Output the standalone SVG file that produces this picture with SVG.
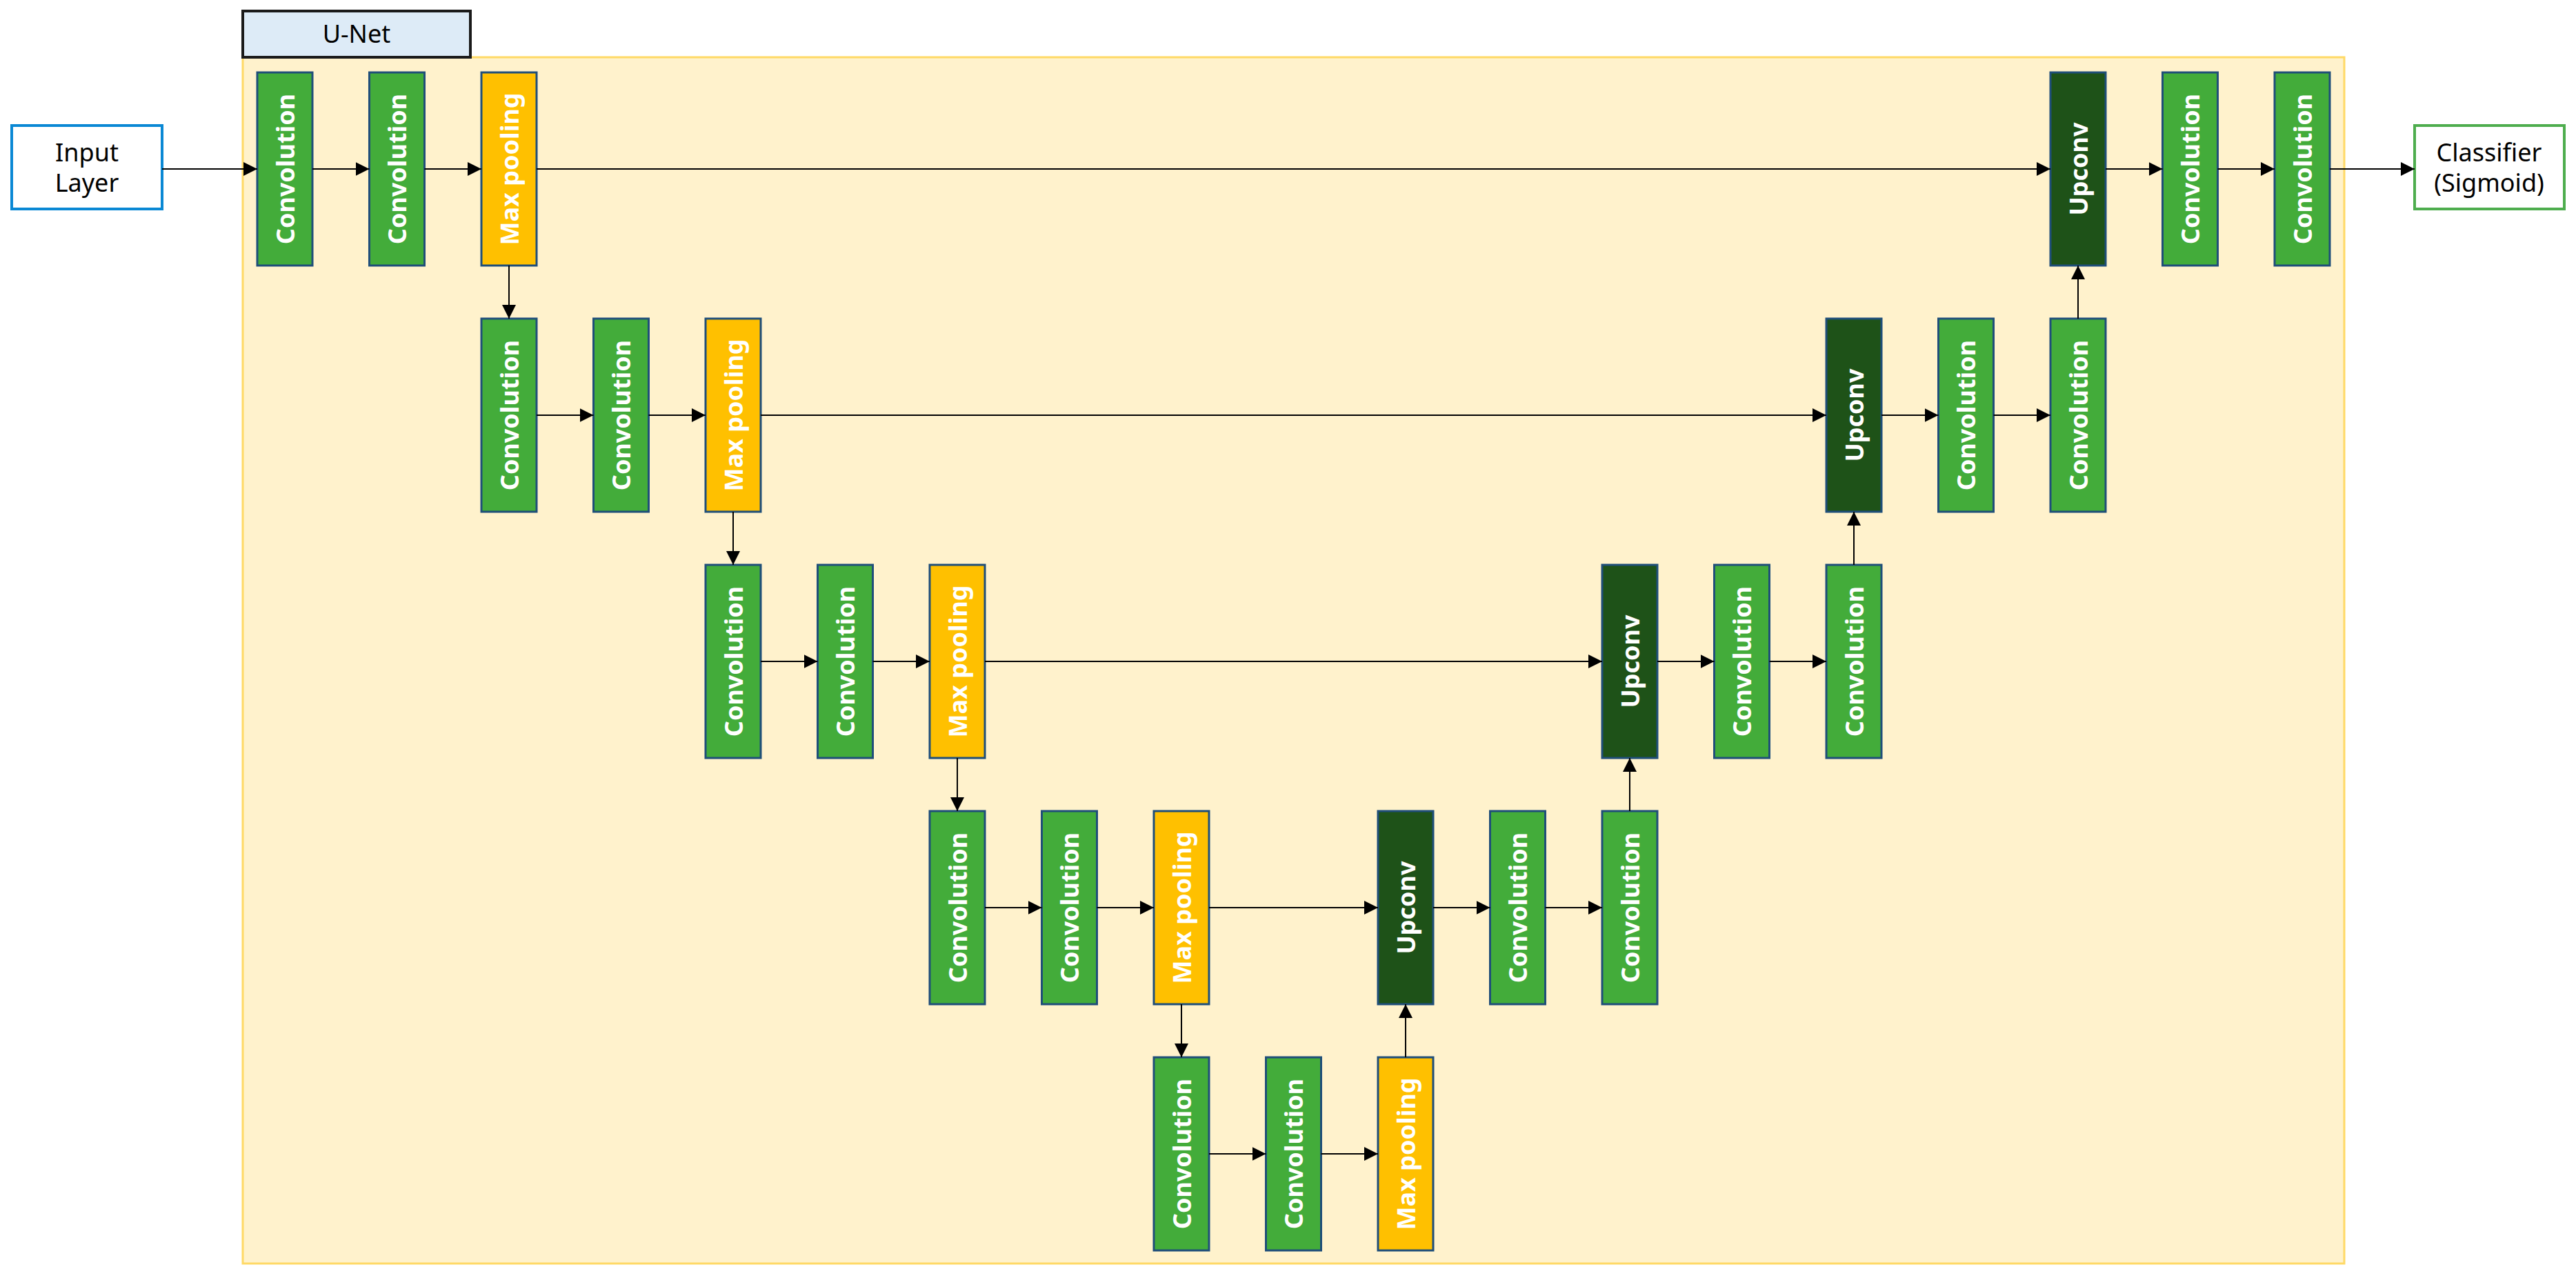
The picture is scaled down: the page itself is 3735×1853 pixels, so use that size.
<svg xmlns="http://www.w3.org/2000/svg" width="3735" height="1853" viewBox="0 0 3735 1853">
<defs>
<marker id="ah" viewBox="0 0 10 10" refX="10" refY="5" markerWidth="8" markerHeight="8" markerUnits="userSpaceOnUse" orient="auto"><path d="M0,0 L10,5 L0,10 z" fill="#000"/></marker>
<marker id="a" viewBox="0 0 10 10" refX="10" refY="5" markerWidth="20" markerHeight="20" markerUnits="userSpaceOnUse" orient="auto"><path d="M0,0 L10,5 L0,10 z" fill="#000"/></marker>
<style>
.conv{fill:#43AC3A;stroke:#1F4E79;stroke-width:3}
.pool{fill:#FFC000;stroke:#1F4E79;stroke-width:3}
.up{fill:#1E5218;stroke:#1F4E79;stroke-width:3}
.bt{fill:#fff;font-family:"Noto Sans","Open Sans",sans-serif;font-weight:bold;font-size:36px;text-anchor:middle;dominant-baseline:central}
.lt{fill:#000;font-family:"Noto Sans","Open Sans",sans-serif;font-size:36px;text-anchor:middle}
.c line{stroke:#000;stroke-width:2;marker-end:url(#a)}
</style>
</defs>
<rect x="352" y="83" width="3047" height="1749" fill="#FFF2CC" stroke="#FFD966" stroke-width="3"/>
<g id="unet-label"><rect x="352" y="16" width="330" height="67" fill="#DDEBF7" stroke="#1a1a1a" stroke-width="4"/><text class="lt" x="517" y="62">U-Net</text></g>
<g id="input"><rect x="17" y="182" width="218" height="121" fill="#fff" stroke="#0A88D4" stroke-width="4"/><text class="lt" x="126" y="234">Input</text><text class="lt" x="126" y="278">Layer</text></g>
<g id="classifier"><rect x="3501" y="182" width="217" height="121" fill="#fff" stroke="#4EAD4E" stroke-width="4"/><text class="lt" x="3609" y="234">Classifier</text><text class="lt" x="3609" y="278">(Sigmoid)</text></g>
<!-- nodes: col x = 373+162.5*i, row y = 105+357*r -->
<g id="r1c0"><rect class="conv" x="373" y="105" width="80" height="280"/><text class="bt" transform="translate(413,245) rotate(-90)">Convolution</text></g>
<g id="r1c1"><rect class="conv" x="535.5" y="105" width="80" height="280"/><text class="bt" transform="translate(575.5,245) rotate(-90)">Convolution</text></g>
<g id="r1c2"><rect class="pool" x="698" y="105" width="80" height="280"/><text class="bt" transform="translate(738,245) rotate(-90)">Max pooling</text></g>
<g id="r1c16"><rect class="up" x="2973" y="105" width="80" height="280"/><text class="bt" transform="translate(3013,245) rotate(-90)">Upconv</text></g>
<g id="r1c17"><rect class="conv" x="3135.5" y="105" width="80" height="280"/><text class="bt" transform="translate(3175.5,245) rotate(-90)">Convolution</text></g>
<g id="r1c18"><rect class="conv" x="3298" y="105" width="80" height="280"/><text class="bt" transform="translate(3338,245) rotate(-90)">Convolution</text></g>

<g id="r2c2"><rect class="conv" x="698" y="462" width="80" height="280"/><text class="bt" transform="translate(738,602) rotate(-90)">Convolution</text></g>
<g id="r2c3"><rect class="conv" x="860.5" y="462" width="80" height="280"/><text class="bt" transform="translate(900.5,602) rotate(-90)">Convolution</text></g>
<g id="r2c4"><rect class="pool" x="1023" y="462" width="80" height="280"/><text class="bt" transform="translate(1063,602) rotate(-90)">Max pooling</text></g>
<g id="r2c14"><rect class="up" x="2648" y="462" width="80" height="280"/><text class="bt" transform="translate(2688,602) rotate(-90)">Upconv</text></g>
<g id="r2c15"><rect class="conv" x="2810.5" y="462" width="80" height="280"/><text class="bt" transform="translate(2850.5,602) rotate(-90)">Convolution</text></g>
<g id="r2c16"><rect class="conv" x="2973" y="462" width="80" height="280"/><text class="bt" transform="translate(3013,602) rotate(-90)">Convolution</text></g>

<g id="r3c4"><rect class="conv" x="1023" y="819" width="80" height="280"/><text class="bt" transform="translate(1063,959) rotate(-90)">Convolution</text></g>
<g id="r3c5"><rect class="conv" x="1185.5" y="819" width="80" height="280"/><text class="bt" transform="translate(1225.5,959) rotate(-90)">Convolution</text></g>
<g id="r3c6"><rect class="pool" x="1348" y="819" width="80" height="280"/><text class="bt" transform="translate(1388,959) rotate(-90)">Max pooling</text></g>
<g id="r3c12"><rect class="up" x="2323" y="819" width="80" height="280"/><text class="bt" transform="translate(2363,959) rotate(-90)">Upconv</text></g>
<g id="r3c13"><rect class="conv" x="2485.5" y="819" width="80" height="280"/><text class="bt" transform="translate(2525.5,959) rotate(-90)">Convolution</text></g>
<g id="r3c14"><rect class="conv" x="2648" y="819" width="80" height="280"/><text class="bt" transform="translate(2688,959) rotate(-90)">Convolution</text></g>

<g id="r4c6"><rect class="conv" x="1348" y="1176" width="80" height="280"/><text class="bt" transform="translate(1388,1316) rotate(-90)">Convolution</text></g>
<g id="r4c7"><rect class="conv" x="1510.5" y="1176" width="80" height="280"/><text class="bt" transform="translate(1550.5,1316) rotate(-90)">Convolution</text></g>
<g id="r4c8"><rect class="pool" x="1673" y="1176" width="80" height="280"/><text class="bt" transform="translate(1713,1316) rotate(-90)">Max pooling</text></g>
<g id="r4c10"><rect class="up" x="1998" y="1176" width="80" height="280"/><text class="bt" transform="translate(2038,1316) rotate(-90)">Upconv</text></g>
<g id="r4c11"><rect class="conv" x="2160.5" y="1176" width="80" height="280"/><text class="bt" transform="translate(2200.5,1316) rotate(-90)">Convolution</text></g>
<g id="r4c12"><rect class="conv" x="2323" y="1176" width="80" height="280"/><text class="bt" transform="translate(2363,1316) rotate(-90)">Convolution</text></g>

<g id="r5c8"><rect class="conv" x="1673" y="1533" width="80" height="280"/><text class="bt" transform="translate(1713,1673) rotate(-90)">Convolution</text></g>
<g id="r5c9"><rect class="conv" x="1835.5" y="1533" width="80" height="280"/><text class="bt" transform="translate(1875.5,1673) rotate(-90)">Convolution</text></g>
<g id="r5c10"><rect class="pool" x="1998" y="1533" width="80" height="280"/><text class="bt" transform="translate(2038,1673) rotate(-90)">Max pooling</text></g>

<g id="connectors" class="c">
<line x1="235" y1="245" x2="373" y2="245"/>
<line x1="453" y1="245" x2="535.5" y2="245"/>
<line x1="615.5" y1="245" x2="698" y2="245"/>
<line x1="778" y1="245" x2="2973" y2="245"/>
<line x1="3053" y1="245" x2="3135.5" y2="245"/>
<line x1="3215.5" y1="245" x2="3298" y2="245"/>
<line x1="3378" y1="245" x2="3501" y2="245"/>
<line x1="738" y1="385" x2="738" y2="462"/>
<line x1="3013" y1="462" x2="3013" y2="385"/>

<line x1="778" y1="602" x2="860.5" y2="602"/>
<line x1="940.5" y1="602" x2="1023" y2="602"/>
<line x1="1103" y1="602" x2="2648" y2="602"/>
<line x1="2728" y1="602" x2="2810.5" y2="602"/>
<line x1="2890.5" y1="602" x2="2973" y2="602"/>
<line x1="1063" y1="742" x2="1063" y2="819"/>
<line x1="2688" y1="819" x2="2688" y2="742"/>

<line x1="1103" y1="959" x2="1185.5" y2="959"/>
<line x1="1265.5" y1="959" x2="1348" y2="959"/>
<line x1="1428" y1="959" x2="2323" y2="959"/>
<line x1="2403" y1="959" x2="2485.5" y2="959"/>
<line x1="2565.5" y1="959" x2="2648" y2="959"/>
<line x1="1388" y1="1099" x2="1388" y2="1176"/>
<line x1="2363" y1="1176" x2="2363" y2="1099"/>

<line x1="1428" y1="1316" x2="1510.5" y2="1316"/>
<line x1="1590.5" y1="1316" x2="1673" y2="1316"/>
<line x1="1753" y1="1316" x2="1998" y2="1316"/>
<line x1="2078" y1="1316" x2="2160.5" y2="1316"/>
<line x1="2240.5" y1="1316" x2="2323" y2="1316"/>
<line x1="1713" y1="1456" x2="1713" y2="1533"/>
<line x1="2038" y1="1533" x2="2038" y2="1456"/>

<line x1="1753" y1="1673" x2="1835.5" y2="1673"/>
<line x1="1915.5" y1="1673" x2="1998" y2="1673"/>
</g>
</svg>
